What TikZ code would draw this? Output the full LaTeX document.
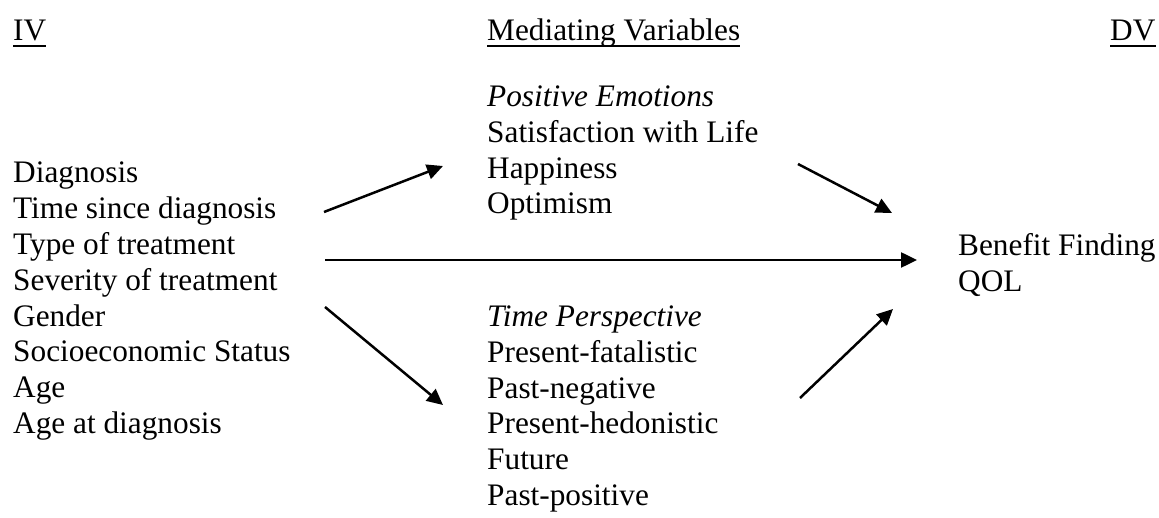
\documentclass[tikz,border=0pt]{standalone}
\usepackage{fontspec}
\setmainfont{Liberation Serif}
\usetikzlibrary{arrows.meta}
\begin{document}
\begin{tikzpicture}[x=1pt,y=-1pt,
  txt/.style={anchor=base west,inner sep=0pt,font=\fontsize{31.3}{36}\selectfont},
  itxt/.style={txt,font=\fontsize{31.3}{36}\selectfont\itshape},
  uline/.style={line width=1.6pt},
  arr/.style={line width=2.5pt,-{Triangle[length=16pt,width=15pt]}}]
\useasboundingbox (0,0) rectangle (1159,518);
% headers
\node[txt] (hiv) at (13,41) {IV};
\node[txt] (hmv) at (487,41) {Mediating Variables};
\node[txt] (hdv) at (1110,41) {DV};
\foreach \n in {hiv,hmv,hdv}
  \draw[uline] ([yshift=-5pt]\n.base west) -- ([yshift=-5pt]\n.base east);
% independent variables
\foreach \t [count=\i] in {Diagnosis,Time since diagnosis,Type of treatment,Severity of treatment,Gender,Socioeconomic Status,Age,Age at diagnosis}
  \node[txt] (iv\i) at (13,{183+35.8*(\i-1)}) {\t};
% positive emotions
\node[itxt] (pe) at (487,107) {Positive Emotions};
\foreach \t [count=\i] in {Satisfaction with Life,Happiness,Optimism}
  \node[txt] (pe\i) at (487,{107+35.6*\i}) {\t};
% time perspective
\node[itxt] (tp) at (487,327) {Time Perspective};
\foreach \t [count=\i] in {Present-fatalistic,Past-negative,Present-hedonistic,Future,Past-positive}
  \node[txt] (tp\i) at (487,{327+35.6*\i}) {\t};
% dependent variables
\node[txt] (dv1) at (958,256) {Benefit Finding};
\node[txt] (dv2) at (958,292) {QOL};
% arrow end points
\coordinate (a1s) at (324,212); \coordinate (a1e) at (443,166);
\coordinate (a2s) at (798,164); \coordinate (a2e) at (892,213);
\coordinate (a3s) at (325,260); \coordinate (a3e) at (917,260);
\coordinate (a4s) at (325,307); \coordinate (a4e) at (443,405);
\coordinate (a5s) at (800,398); \coordinate (a5e) at (893,309);
\draw[arr] (a1s) -- (a1e);
\draw[arr] (a2s) -- (a2e);
\draw[arr] (a3s) -- (a3e);
\draw[arr] (a4s) -- (a4e);
\draw[arr] (a5s) -- (a5e);
\end{tikzpicture}
\end{document}
